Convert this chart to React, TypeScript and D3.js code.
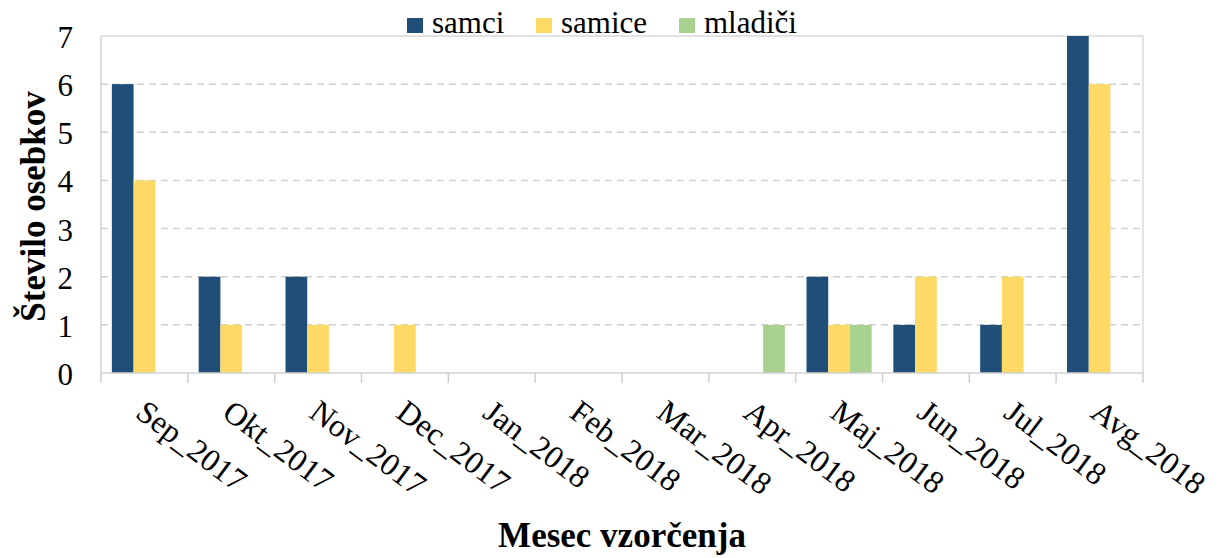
import React from "react";
import * as d3 from "d3";

const MONTHS = [
  "Sep_2017",
  "Okt_2017",
  "Nov_2017",
  "Dec_2017",
  "Jan_2018",
  "Feb_2018",
  "Mar_2018",
  "Apr_2018",
  "Maj_2018",
  "Jun_2018",
  "Jul_2018",
  "Avg_2018",
];
const SERIES = ["samci", "samice", "mladiči"];
const SAMCI = [6, 2, 2, 0, 0, 0, 0, 0, 2, 1, 1, 7];
const SAMICE = [4, 1, 1, 1, 0, 0, 0, 0, 1, 2, 2, 6];
const MLADICI = [0, 0, 0, 0, 0, 0, 0, 1, 1, 0, 0, 0];
const Y_TICKS = [0, 1, 2, 3, 4, 5, 6, 7];
const COLORS = ["#1F4E79", "#FFD966", "#A9D18E"];

const W = 1222;
const H = 558;
const FONT = "Liberation Serif";
// plot area
const margin = { top: 36, right: 79, bottom: 185, left: 101 };

export default function App() {
  const values = [SAMCI, SAMICE, MLADICI];
  const x = d3
    .scaleBand()
    .domain(MONTHS)
    .range([margin.left, W - margin.right])
    .padding(0);
  const x1 = d3
    .scaleBand()
    .domain(SERIES)
    .range([0, x.bandwidth()])
    .paddingInner(0)
    .paddingOuter(0.5);
  const y = d3
    .scaleLinear()
    .domain([0, 7])
    .range([H - margin.bottom, margin.top]);

  const x0 = margin.left;
  const xEnd = W - margin.right;
  const y0 = y(0);

  // legend item positions
  const legendX = [407, 536, 679];

  return (
    <svg width={W} height={H} style={{ position: "absolute", left: 0, top: 0, background: "#fff" }}>
      {/* gridlines */}
      {Y_TICKS.filter((t) => t > 0 && t < 7).map((t) => (
        <line
          key={"g" + t}
          x1={x0}
          x2={xEnd}
          y1={y(t)}
          y2={y(t)}
          stroke="#d0d0d0"
          strokeWidth={1.5}
          strokeDasharray="7,5"
        />
      ))}
      {/* plot border top/right */}
      <line x1={x0} x2={xEnd} y1={y(7)} y2={y(7)} stroke="#d9d9d9" strokeWidth={1.5} />
      <line x1={xEnd} x2={xEnd} y1={y(7)} y2={y0} stroke="#d9d9d9" strokeWidth={1.5} />

      {/* bars */}
      {SERIES.map((s, si) =>
        MONTHS.map((m, i) => {
          const v = values[si][i];
          if (!v) return null;
          return (
            <rect
              key={s + m}
              x={(x(m) as number) + (x1(s) as number)}
              y={y(v)}
              width={x1.bandwidth()}
              height={y0 - y(v)}
              fill={COLORS[si]}
            />
          );
        })
      )}

      {/* axes */}
      <line x1={x0} x2={x0} y1={y(7)} y2={y0} stroke="#d0d0d0" strokeWidth={1.5} />
      <line x1={x0} x2={xEnd} y1={y0} y2={y0} stroke="#d0d0d0" strokeWidth={1.5} />
      {[...MONTHS.map((m) => x(m) as number), xEnd].map((tx, i) => (
        <line key={"t" + i} x1={tx} x2={tx} y1={y0} y2={y0 + 10} stroke="#d0d0d0" strokeWidth={1.5} />
      ))}

      {/* y tick labels */}
      {Y_TICKS.map((t) => (
        <text
          key={"yl" + t}
          x={73}
          y={y(t) + 12}
          textAnchor="end"
          style={{ fontFamily: FONT, fontSize: 31 }}
        >
          {t}
        </text>
      ))}

      {/* x tick labels */}
      {MONTHS.map((m) => {
        const cx = (x(m) as number) + x.bandwidth() / 2;
        return (
          <text
            key={"xl" + m}
            transform={`translate(${cx + 3},398) rotate(37)`}
            dy="0.7em"
            style={{ fontFamily: FONT, fontSize: 32 }}
          >
            {m}
          </text>
        );
      })}

      {/* axis titles */}
      <text
        transform={`translate(45,${(y0 + y(7)) / 2 + 2}) rotate(-90)`}
        textAnchor="middle"
        style={{ fontFamily: FONT, fontSize: 35, fontWeight: "bold" }}
      >
        Število osebkov
      </text>
      <text
        x={(x0 + xEnd) / 2}
        y={547}
        textAnchor="middle"
        style={{ fontFamily: FONT, fontSize: 35, fontWeight: "bold" }}
      >
        Mesec vzorčenja
      </text>

      {/* legend */}
      {SERIES.map((s, i) => (
        <g key={"lg" + s}>
          <rect x={legendX[i]} y={18} width={16} height={15} fill={COLORS[i]} />
          <text x={legendX[i] + 25} y={33} style={{ fontFamily: FONT, fontSize: 31 }}>
            {s}
          </text>
        </g>
      ))}
    </svg>
  );
}
